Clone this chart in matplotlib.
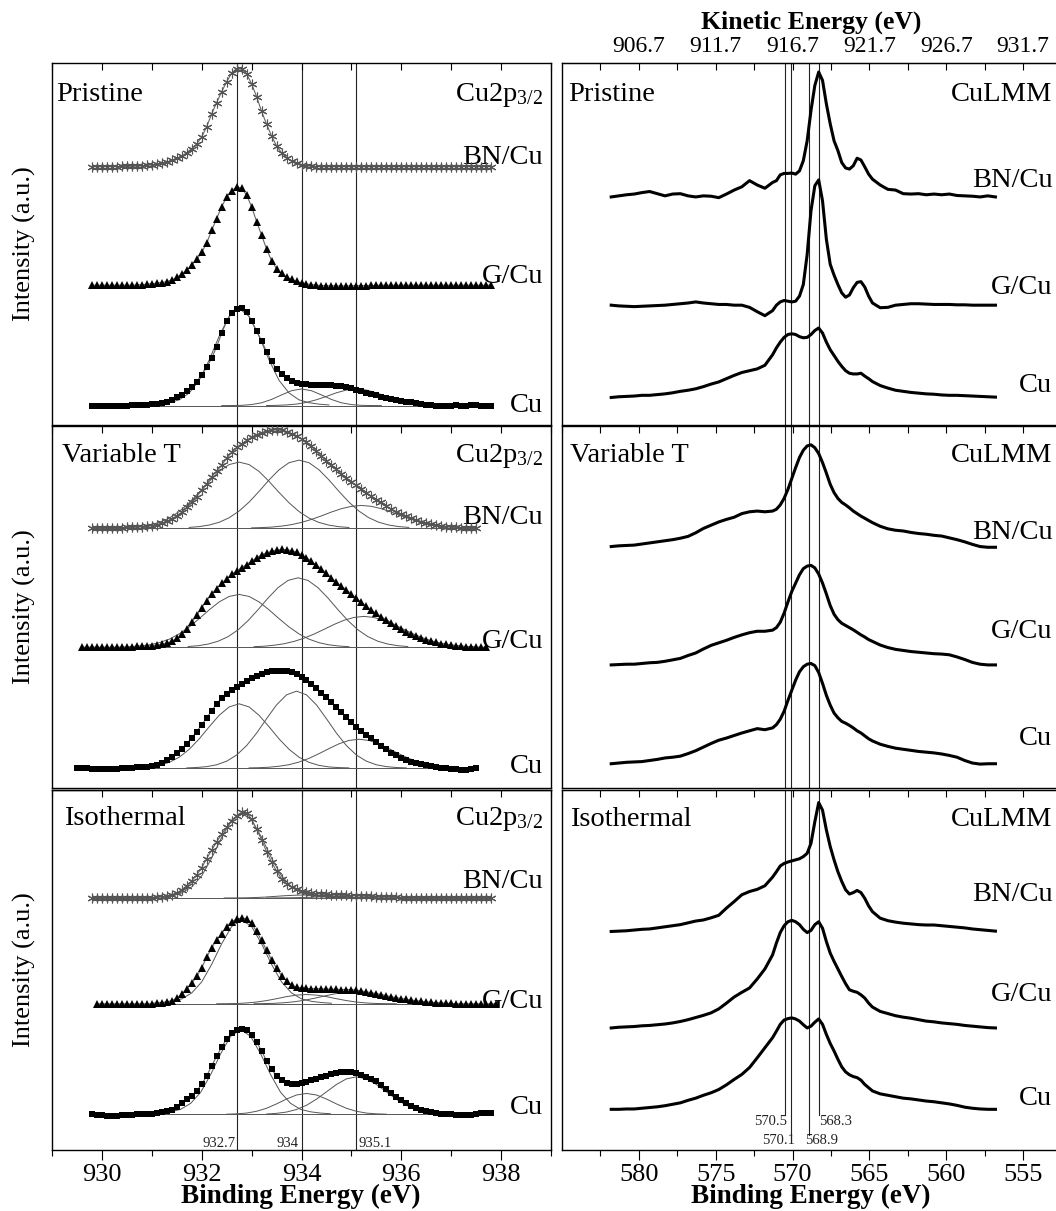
import numpy as np
import matplotlib
matplotlib.use("Agg")
import matplotlib.pyplot as plt
from matplotlib.ticker import MultipleLocator, FixedLocator, NullFormatter, FormatStrFormatter

plt.rcParams['font.family'] = ['Liberation Serif', 'DejaVu Serif']
plt.rcParams['mathtext.fontset'] = 'custom'
plt.rcParams['mathtext.rm'] = 'Liberation Serif'
plt.rcParams['mathtext.it'] = 'Liberation Serif:italic'

# ---------------------------------------------------------------- data
samples = ["BN/Cu", "G/Cu", "Cu"]
rows_names = ["Pristine", "Variable T", "Isothermal"]

# Cu 2p3/2 spectra: normalised intensity, 0.1 eV steps from the start energy
pri_bn_e0 = 929.8
pri_bn = [0, 0, 0, 0, 0, 0, 0.1, 0.2, 0.3, 0.5, 0.8, 1.2, 1.8, 2.5, 3.4, 4.6, 6.2, 8.2, 10.8, 14.0,
          18.2, 23.0, 30.0, 40.5, 53.5, 65, 76, 86, 95, 99.5, 99, 94, 84, 71, 56, 43, 31, 21, 14, 9,
          5.5, 3.2, 1.6, 0.8, 0.3, 0, 0, 0, 0, 0, 0, 0, 0, 0, 0, 0, 0, 0, 0, 0,
          0, 0, 0, 0, 0, 0, 0, 0, 0, 0, 0, 0, 0, 0, 0, 0, 0, 0, 0, 0, 0]
pri_g_e0 = 929.8
pri_g = [0, 0, 0, 0, 0, 0, 0, 0, 0, 0.3, 0.6, 1.0, 1.5, 2.1, 2.8, 3.6, 5.5, 8.0, 11.5, 15.5,
         20.5, 26.5, 33.5, 43, 56, 68, 80, 90, 96.5, 100, 99, 92, 80, 65, 51, 37, 25, 17, 12, 8.5,
         6, 4, 2.5, 1.5, 0.7, 0, -0.3, -0.5, -0.6, -0.7, -0.7, -0.7, -0.6, -0.5, -0.4, -0.3, -0.2, -0.1,
         0, 0, 0, 0, 0, 0, 0, 0, 0, 0, 0, 0, 0, 0, 0, 0, 0, 0, 0, 0, 0, 0, 0]
pri_cu_e0 = 929.8
pri_cu = [0, -0.3, -0.5, -0.5, -0.4, -0.2, -0.3, 0, 0.2, 0.4, 0.7, 1.0, 1.3, 1.7, 2.6, 4, 6, 8.3, 11, 14.5,
          18.5, 24.5, 31.5, 39, 48.5, 60, 74, 86, 94.5, 99, 99.5, 95, 86, 76, 66, 55, 45, 37, 32, 28.5,
          25.5, 23.5, 22.5, 22, 21.5, 21.2, 21.2, 21.2, 21, 20.5, 19.7, 18.8, 17.5, 16, 14.5, 13, 11.8, 10.5, 9.2, 8,
          7, 6, 5, 4.1, 3.2, 2.4, 1.6, 0.9, 0.2, -0.5, -0.6, -0.3, 0, 0.2, 0.1, 0, 0.2, 0.3, 0.1, 0, 0]
vt_bn_e0 = 929.8
vt_bn = [0, 0, 0, 0, 0.1, 0.2, 0.4, 0.6, 0.8, 1.1, 1.4, 1.8, 2.4, 3.4, 5.0, 6.8, 9.5, 12.5, 16, 21,
         26.5, 32, 38.5, 45, 52, 58, 64, 71, 77, 82, 85.5, 89, 92.5, 95, 97, 98.5, 99.5, 100, 99.2, 97.8,
         96, 93.5, 90.5, 87, 83, 78.5, 73.5, 68.5, 64, 59.5, 55, 51, 47, 43.5, 40, 36, 32.5, 29, 26, 22.5,
         19.5, 16.8, 14.2, 12, 10, 8.2, 6.6, 5.2, 4, 3, 2.2, 1.6, 1.1, 0.7, 0.4, 0.2, 0.1, 0]
vt_g_e0 = 929.6
vt_g = [0, 0, 0, 0, 0, 0, 0, 0, 0.2, 0.3, 0.5, 0.7, 1.0, 1.3, 1.7, 2.1, 2.8, 4.0, 6.0, 9.0,
        13.5, 19, 25.5, 32.5, 40.5, 47.5, 54.5, 60, 65.5, 70, 74.5, 78, 81.5, 84.5, 88, 91.5, 94.5, 96.5, 98, 99.2,
        100, 99.8, 98.8, 97, 94.5, 91.5, 88, 84, 80, 75.5, 71, 66.5, 62.5, 58.5, 54.5, 50, 46, 42, 38, 34.5,
        31, 28, 25, 22, 19, 16, 13.5, 11.2, 9.2, 7.5, 6, 4.8, 3.7, 2.8, 2, 1.4, 0.9, 0.5, 0.2, 0, 0, 0]
vt_cu_e0 = 929.5
vt_cu = [0.5, 0, -0.3, -0.5, -0.7, -0.7, -0.7, -0.6, -0.5, -0.3, 0, 0.3, 0.7, 1.1, 1.6, 2.2, 3.5, 5.2, 7.8, 11.5,
         15.5, 20, 25, 31, 37.5, 44.5, 51.5, 59, 66, 72, 76.5, 80, 83, 86.5, 89.5, 92.5, 95, 97, 98.5, 99.5,
         100, 100, 99.5, 98.5, 96.5, 93.5, 90, 86, 82, 77.5, 72.5, 67.5, 62.5, 57.5, 52.5, 47, 42, 38, 34, 30.5,
         27, 23, 19.5, 16, 13.2, 10.6, 8.3, 6.4, 4.9, 3.7, 2.7, 1.9, 1.2, 0.6, 0.1, -0.5, -1.2, -2, -2.4, -1.2, 0]
iso_bn_e0 = 929.8
iso_bn = [0, 0, 0, 0, 0, 0, 0, 0, 0, 0, 0, 0, 0,
          0.8, 1.5, 2.5, 4, 6, 9.5, 14.5, 20, 27, 35.5, 46, 56, 65.5, 74.5, 82.5, 90, 96, 100, 99.5, 92,
          80, 68, 54, 42, 31.5, 22.5, 16.5, 12.5, 10, 8, 6.6, 5.8, 5.1, 4.6, 4.2, 3.9, 3.6, 3.4, 3.1, 2.9,
          2.7, 2.4, 2.1, 1.8, 1.5, 1.2, 1, 0.8, 0.6, 0.4, 0.3, 0.2, 0.1,
          0, 0, 0, 0, 0, 0, 0, 0, 0, 0, 0, 0, 0, 0, 0]
iso_g_e0 = 929.9
iso_g = [0, 0, 0, 0, 0, 0, 0, 0, 0, 0, 0, 0,
         0.5, 1.2, 2.3, 3.8, 6.5, 11.5, 17.5, 24, 32, 42, 54.5, 65.5, 74.5, 82, 90, 96, 99, 100, 99.5, 94,
         84.5, 74, 62.5, 51.5, 41.5, 33, 26.5, 22, 19.5, 18.5, 18, 17.8, 17.6, 17.4, 17.2, 17, 16.8, 16.7, 16.7, 16.5,
         15.8, 15, 14, 13, 12, 10.8, 9.5, 8.2, 7.2, 6.2, 5.2, 4.4, 3.6, 3, 2.4, 1.9, 1.4, 1, 0.7, 0.4, 0.2, 0,
         0, 0, 0, 0, 0, 0, 0]
iso_cu_e0 = 929.8
iso_cu = [0, -0.5, -1, -1.5, -2, -1.5, -1, -0.5, -0.2, 0, 0.3, 0.6, 1, 1.5, 2.5, 3.8, 5.5, 9, 13, 17.5,
          22, 27.5, 35, 45, 56.5, 68, 78.5, 88, 94.5, 98.5, 100, 98.5, 93, 84.5, 74, 62.5, 52.5, 45, 40, 37,
          36, 36, 36.5, 38, 39.8, 41.5, 43.5, 45.2, 46.8, 48, 49.2, 49.6, 49, 47.8, 46.2, 44, 41.5, 38.5, 34, 29.5,
          25, 20.5, 16.5, 13, 10, 7.8, 5.5, 3.8, 2.5, 1.5, 0.8, 0.4, 0, -0.4, -0.8, -0.8, -0.2, 0.8, 1.2, 1.2, 1.2]

# fitted components: (start energy, values at 0.2 eV steps), same normalisation
pri_cu_comps = [
    (930.95, [0.7, 1.5, 3.0, 5.9, 12.9, 25.8, 46.5, 70.8, 91.1, 99, 91.1, 70.8, 46.5, 25.8, 12.9, 5.9, 3.0, 1.5, 0.7]),
    (932.4, [0, 0.1, 0.3, 1.1, 2.9, 6.3, 10.9, 15.2, 17, 15.2, 10.9, 6.3, 2.9, 1.1, 0.3, 0.1, 0]),
    (933.3, [0.1, 0.3, 0.7, 1.6, 3.3, 6.0, 9.4, 13.1, 15.9, 17, 15.9, 13.1, 9.4, 6.0, 3.3, 1.6, 0.7, 0.3, 0.1]),
]
vt_bn_comps = [
    (930.55, [0.6, 1.4, 3.0, 5.7, 10.2, 16.8, 25.7, 36.2, 47.4, 57.5, 64.5, 67, 64.5, 57.5, 47.4, 36.2, 25.7, 16.8, 10.2, 5.7, 3.0, 1.4, 0.6]),
    (931.75, [0.7, 1.5, 3.1, 5.9, 10.5, 17.3, 26.4, 37.3, 48.9, 59.2, 66.4, 69, 66.4, 59.2, 48.9, 37.3, 26.4, 17.3, 10.5, 5.9, 3.1, 1.5, 0.7]),
    (933.0, [0.2, 0.5, 1.0, 2.0, 3.5, 5.8, 8.8, 12.4, 16.3, 19.7, 22.1, 23, 22.1, 19.7, 16.3, 12.4, 8.8, 5.8, 3.5, 2.0, 1.0, 0.5, 0.2]),
]
vt_g_comps = [
    (930.55, [0.5, 1.2, 2.4, 4.6, 8.2, 13.6, 20.7, 29.2, 38.2, 46.3, 51.9, 54, 51.9, 46.3, 38.2, 29.2, 20.7, 13.6, 8.2, 4.6, 2.4, 1.2, 0.5]),
    (931.73, [0.7, 1.5, 3.2, 6.1, 10.8, 17.8, 27.2, 38.4, 50.3, 60.9, 68.3, 71, 68.3, 60.9, 50.3, 38.4, 27.2, 17.8, 10.8, 6.1, 3.2, 1.5, 0.7]),
    (933.05, [0.5, 1.0, 2.0, 3.5, 5.9, 9.2, 13.4, 18.2, 23.2, 27.5, 30.4, 31.5, 30.4, 27.5, 23.2, 18.2, 13.4, 9.2, 5.9, 3.5, 2.0, 1.0, 0.5]),
]
vt_cu_comps = [
    (930.55, [0.2, 0.5, 1.2, 2.8, 5.9, 11.2, 19.3, 30.0, 42.4, 54.2, 62.8, 66, 62.8, 54.2, 42.4, 30.0, 19.3, 11.2, 5.9, 2.8, 1.2, 0.5, 0.2]),
    (931.7, [0.2, 0.6, 1.5, 3.4, 7.1, 13.4, 23.1, 35.9, 50.7, 64.9, 75.2, 79, 75.2, 64.9, 50.7, 35.9, 23.1, 13.4, 7.1, 3.4, 1.5, 0.6, 0.2]),
    (932.95, [0.2, 0.4, 0.9, 1.9, 3.5, 6.2, 10.0, 14.8, 20.0, 24.9, 28.4, 29.6, 28.4, 24.9, 20.0, 14.8, 10.0, 6.2, 3.5, 1.9, 0.9, 0.4, 0.2]),
]
iso_bn_comps = [
    (931.0, [0.7, 1.5, 3.0, 5.9, 12.9, 25.8, 46.5, 70.8, 91.1, 99, 91.1, 70.8, 46.5, 25.8, 12.9, 5.9, 3.0, 1.5, 0.7]),
    (932.45, [0.0, 0.1, 0.2, 0.5, 1.0, 1.8, 2.6, 3.2, 3.5, 3.2, 2.6, 1.8, 1.0, 0.5, 0.2, 0.1, 0.0]),
    (933.3, [0.0, 0.1, 0.2, 0.4, 0.7, 1.1, 1.7, 2.2, 2.6, 2.8, 2.6, 2.2, 1.7, 1.1, 0.7, 0.4, 0.2, 0.1, 0.0]),
]
iso_g_comps = [
    (931.0, [0.7, 1.5, 2.9, 5.8, 12.7, 25.6, 46.1, 70.1, 90.2, 98, 90.2, 70.1, 46.1, 25.6, 12.7, 5.8, 2.9, 1.5, 0.7]),
    (932.3, [0.1, 0.2, 0.4, 1.0, 2.1, 3.8, 6.0, 8.4, 10.2, 10.9, 10.2, 8.4, 6.0, 3.8, 2.1, 1.0, 0.4, 0.2, 0.1]),
    (933.05, [0.1, 0.3, 0.6, 1.3, 2.4, 4.1, 6.4, 9.0, 11.5, 13.3, 14, 13.3, 11.5, 9.0, 6.4, 4.1, 2.4, 1.3, 0.6, 0.3, 0.1]),
]
iso_cu_comps = [
    (930.98, [0.7, 1.5, 3.0, 5.9, 12.9, 25.8, 46.5, 70.8, 91.1, 99, 91.1, 70.8, 46.5, 25.8, 12.9, 5.9, 3.0, 1.5, 0.7]),
    (932.5, [0.2, 0.6, 1.5, 3.6, 7.1, 12.2, 17.9, 22.6, 24.4, 22.6, 17.9, 12.2, 7.1, 3.6, 1.5, 0.6, 0.2]),
    (933.3, [0.4, 1.2, 2.7, 5.7, 10.6, 17.7, 26.3, 34.9, 41.4, 43.8, 41.4, 34.9, 26.3, 17.7, 10.6, 5.7, 2.7, 1.2, 0.4]),
]

# stacking offsets and peak heights of the Cu 2p panels (percent of panel height)
cu2p_offsets = [[71.4, 38.6, 5.35], [71.8, 38.9, 5.5], [70.0, 40.6, 9.9]]
cu2p_heights = [[27.2, 27.1, 27.1], [27.2, 27.0, 26.9], [23.8, 23.8, 23.8]]
cu2p_ref = [932.7, 934.0, 935.1]
cu2p_ref_labels = ["932.7", "934", "935.1"]
cu2p_ticks = [930, 932, 934, 936, 938]

# Cu LMM spectra: binding energy grid and intensities (percent of panel height above offset)
lmm_be = [581.8, 581.3, 580.8, 580.3, 579.8, 579.3, 578.8, 578.3, 577.8, 577.3, 576.8,
          576.3, 575.8, 575.3, 574.8, 574.3, 573.8, 573.3, 572.8, 572.3, 571.8, 571.3,
          571.05, 570.8, 570.55, 570.3, 570.05, 569.8, 569.55, 569.3, 569.05, 568.8, 568.55,
          568.3, 568.05, 567.8, 567.55, 567.3, 567.05, 566.8, 566.55, 566.3, 566.05, 565.8,
          565.55, 565.3, 565.05, 564.8,
          564.3, 563.8, 563.3, 562.8, 562.3, 561.8, 561.3, 560.8, 560.3, 559.8, 559.3, 558.8,
          558.3, 557.8, 557.3, 556.8]
pri_bn_lmm = [-0.3, 0, 0.3, 0.5, 0.9, 1.2, 0.6, 0, 0.5, 0.6, 0, -0.3, 0, -0.1, -0.5, 0.5, 1.6, 2.5, 4.2, 3.0, 2.1, 3.7,
              4.2, 5.8, 6.2, 6.2, 6.3, 6.0, 6.9, 9.7, 15.2, 23.6, 30.5, 34.2, 31.9, 25.4, 19.9, 15.2, 12.5, 9.2, 7.7, 7.4,
              8.3, 10.4, 9.9, 8.0, 6.0, 4.6,
              3.0, 1.8, 1.6, 0.6, 0.5, 0.6, 0.3, 0.5, 0.3, 0.5, 0.1, 0, -0.1, -0.3, 0, -0.3]
pri_g_lmm = [0, -0.2, -0.3, -0.4, -0.3, -0.2, -0.1, 0, 0.2, 0.4, 0.6, 0.9, 0.6, 0.4, 0.2, 0.2, 0, 0, -0.6, -1.8, -2.9, -1.5,
             0, 0.9, 1.3, 1.1, 0.9, 1.1, 2.5, 5.7, 14.0, 26.1, 33.0, 34.6, 28.8, 18.2, 11.3, 8.3, 5.7, 3.4, 2.2, 2.8,
             4.8, 6.3, 6.5, 5.0, 2.5, 0.6,
             -0.7, -0.6, 0, 0.2, 0.4, 0.4, 0.3, 0.2, 0.2, 0.2, 0.1, 0.1, 0, 0, 0, 0]
pri_cu_lmm = [0, 0.2, 0.3, 0.4, 0.6, 0.6, 0.8, 1.0, 1.3, 1.7, 2.0, 2.4, 3.0, 3.7, 4.3, 5.2, 6.1, 6.9, 7.4, 7.9, 8.9, 11.8,
              13.7, 15.3, 16.6, 17.4, 17.6, 17.4, 16.8, 16.5, 16.6, 17.4, 18.5, 19.2, 17.8, 15.3, 13.2, 11.6, 10.0, 8.6,
              7.4, 6.7, 6.5, 6.5, 6.7, 5.9, 5.2, 4.4,
              3.3, 2.6, 2.0, 1.7, 1.4, 1.2, 1.0, 0.9, 0.7, 0.6, 0.6, 0.5, 0.4, 0.3, 0.2, 0.1]
vt_bn_lmm = [-0.1, 0.1, 0.2, 0.3, 0.6, 0.9, 1.2, 1.5, 1.8, 2.2, 2.7, 3.7, 4.9, 5.8, 6.7, 7.4, 8.0, 9.0, 9.5, 9.7, 9.5, 9.7,
             10.2, 11.4, 13.2, 15.7, 18.7, 21.7, 24.5, 26.5, 27.7, 28.0, 27.2, 25.6, 23.1, 20.2, 17.1, 14.8, 13.2, 12.1,
             11.4, 10.6, 9.7, 9.0, 8.3, 7.7, 7.1, 6.5,
             5.5, 4.8, 4.4, 4.2, 3.8, 3.5, 3.3, 3.0, 2.8, 2.3, 1.8, 1.2, 0.5, -0.1, -0.3, -0.3]
vt_g_lmm = [0, 0.1, 0.2, 0.2, 0.4, 0.6, 0.7, 1.0, 1.4, 1.8, 2.6, 3.3, 4.4, 5.4, 6.1, 6.8, 7.6, 8.3, 8.9, 9.3, 9.3, 9.6,
            10.3, 11.8, 14.3, 17.4, 20.3, 22.6, 24.9, 26.6, 27.3, 27.5, 26.8, 25.1, 22.6, 19.6, 16.4, 14.0, 12.5, 11.5,
            10.9, 10.3, 9.7, 9.0, 8.3, 7.7, 7.0, 6.5,
            5.5, 4.8, 4.3, 4.0, 3.7, 3.5, 3.3, 3.1, 3.0, 2.8, 2.2, 1.5, 0.7, 0.2, 0, 0]
vt_cu_lmm = [0, 0.2, 0.4, 0.5, 0.6, 0.9, 1.2, 1.6, 1.8, 2.1, 2.8, 3.6, 4.6, 5.6, 6.5, 7.1, 7.8, 8.5, 9.1, 9.7, 9.4, 9.9,
             10.8, 12.3, 14.5, 17.5, 20.3, 23.1, 25.4, 26.8, 27.5, 27.7, 27.1, 25.2, 22.2, 18.9, 16.2, 14.0, 12.7, 11.7,
             11.2, 10.6, 9.9, 9.1, 8.5, 7.7, 6.9, 6.3,
             5.4, 4.8, 4.3, 4.0, 3.7, 3.4, 3.2, 3.0, 2.7, 2.3, 1.8, 0.9, 0.2, -0.1, 0, 0]
iso_bn_lmm = [0, 0.1, 0.2, 0.4, 0.6, 0.7, 1.0, 1.3, 1.6, 1.9, 2.4, 2.9, 3.2, 3.8, 4.5, 6.5, 8.3, 10.2, 11.1, 11.7, 12.7, 15.1,
              16.6, 18.2, 18.9, 19.3, 19.6, 19.9, 20.2, 20.8, 21.7, 24.5, 30.5, 35.8, 33.7, 28.2, 23.6, 19.9, 16.6, 13.9,
              11.6, 10.4, 10.8, 11.4, 10.8, 9.2, 7.1, 5.5,
              3.7, 3.0, 2.6, 2.3, 2.1, 1.9, 1.8, 1.8, 1.6, 1.4, 1.2, 1.0, 0.7, 0.5, 0.3, 0.1]
iso_g_lmm = [0, 0.2, 0.3, 0.4, 0.6, 0.7, 0.9, 1.1, 1.4, 1.8, 2.3, 2.9, 3.5, 4.2, 5.3, 6.9, 8.6, 9.9, 11.1, 13.6, 16.4, 20.3,
             23.6, 26.5, 28.4, 29.5, 29.9, 29.5, 28.7, 27.4, 26.5, 27.1, 28.7, 29.5, 27.7, 24.0, 20.8, 18.5, 16.4, 14.3,
             12.3, 10.6, 10.2, 9.9, 9.2, 8.3, 6.9, 5.8,
             4.6, 4.0, 3.4, 3.0, 2.7, 2.3, 1.9, 1.7, 1.4, 1.2, 1.0, 0.7, 0.5, 0.3, 0.1, 0]
iso_cu_lmm = [0, 0, 0.1, 0.1, 0.3, 0.5, 0.7, 1.0, 1.4, 1.8, 2.5, 3.1, 3.9, 4.6, 5.5, 6.8, 8.3, 9.7, 11.6, 14.3, 17.1, 19.9,
              21.7, 23.6, 24.8, 25.2, 25.4, 25.1, 24.5, 23.5, 22.6, 23.1, 24.2, 25.1, 23.6, 20.8, 18.3, 16.2, 13.9, 11.8,
              10.4, 9.6, 9.1, 8.8, 8.1, 6.9, 6.0, 5.1,
              4.3, 3.9, 3.5, 3.1, 2.9, 2.6, 2.3, 2.1, 1.8, 1.5, 1.1, 0.6, 0.3, 0.1, 0, 0]
lmm_offsets = [[63.3, 33.1, 7.6], [66.8, 34.0, 6.7], [60.7, 33.9, 11.3]]
lmm_ref = [570.5, 570.1, 568.9, 568.3]
lmm_ref_labels = ["570.5", "570.1", "568.9", "568.3"]
lmm_ticks = [580, 575, 570, 565, 560, 555]
photon_energy = 1486.7
ke_ticks = [906.7, 911.7, 916.7, 921.7, 926.7, 931.7]

cu2p_data = [
    [(pri_bn_e0, pri_bn, None), (pri_g_e0, pri_g, None), (pri_cu_e0, pri_cu, pri_cu_comps)],
    [(vt_bn_e0, vt_bn, vt_bn_comps), (vt_g_e0, vt_g, vt_g_comps), (vt_cu_e0, vt_cu, vt_cu_comps)],
    [(iso_bn_e0, iso_bn, iso_bn_comps), (iso_g_e0, iso_g, iso_g_comps), (iso_cu_e0, iso_cu, iso_cu_comps)],
]
lmm_data = [[pri_bn_lmm, pri_g_lmm, pri_cu_lmm],
            [vt_bn_lmm, vt_g_lmm, vt_cu_lmm],
            [iso_bn_lmm, iso_g_lmm, iso_cu_lmm]]

# ---------------------------------------------------------------- layout / style
W, H = 1056, 1211
fig = plt.figure(figsize=(W / 100, H / 100), dpi=100)


def rect(x0, y0, x1, y1):
    return [x0 / W, 1 - y1 / H, (x1 - x0) / W, (y1 - y0) / H]


row_px = [(63, 425), (426, 788), (790, 1150)]
left_px = (52, 551)
right_px = (562, 1060)

marker_styles = [dict(marker=(6, 2, 0), ms=7, mew=0.8, color='#555555', mec='#555555'),
                 dict(marker='^', ms=6, mew=0, color='black'),
                 dict(marker='s', ms=5, mew=0, color='black')]
LBL = 20.5
cu2p_label_y = [[72.0, 39.2, 3.7], [72.9, 38.8, 4.1], [72.7, 39.4, 9.9]]
cu2p_head_y = [89.6, 90.0, 90.3]
cu2p_head_x = [0.008, 0.02, 0.024]
lmm_label_y = [[65.8, 36.2, 9.0], [68.8, 41.5, 12.0], [69.2, 41.5, 12.4]]
lmm_head_y = [89.4, 90.0, 90.0]
lmm_head_x = [0.012, 0.016, 0.016]

for r in range(3):
    y0, y1 = row_px[r]
    # ----- Cu 2p panel
    ax = fig.add_axes(rect(left_px[0], y0, left_px[1], y1))
    ax.set_xlim(929, 939)
    ax.set_ylim(0, 100)
    ax.set_yticks([])
    for s in ax.spines.values():
        s.set_linewidth(1.0)
    for e in cu2p_ref:
        ax.axvline(e, color='#222222', lw=0.8, zorder=1)
    for i in range(3):
        e0, vals, comps = cu2p_data[r][i]
        off, hgt = cu2p_offsets[r][i], cu2p_heights[r][i]
        x = e0 + 0.1 * np.arange(len(vals))
        y = off + hgt / 100.0 * np.asarray(vals)
        if comps is not None:
            ax.plot([x[0], x[-1]], [off, off], color='#555555', lw=0.7, zorder=2)
            for cs, cv in comps:
                cx = cs + 0.2 * np.arange(len(cv))
                ax.plot(cx, off + hgt / 100.0 * np.asarray(cv), color='#555555', lw=0.7, zorder=2)
        ax.plot(x, y, color='#666666', lw=0.8, zorder=3)
        ax.plot(x, y, ls='none', zorder=4, **marker_styles[i])
        ax.text(0.984, cu2p_label_y[r][i], samples[i], transform=ax.get_yaxis_transform(),
                ha='right', va='baseline', size=LBL)
    ax.text(cu2p_head_x[r], cu2p_head_y[r], rows_names[r], transform=ax.get_yaxis_transform(),
            ha='left', va='baseline', size=LBL)
    ax.text(0.984, cu2p_head_y[r], r'Cu2p$_{\mathrm{3/2}}$', transform=ax.get_yaxis_transform(),
            ha='right', va='baseline', size=LBL)
    fig.text(24 / W, 1 - (y0 + y1) / 2 / H, 'Intensity (a.u.)', rotation=90,
             ha='center', va='center', size=19)
    if r < 2:
        ax.xaxis.set_major_locator(MultipleLocator(1))
        ax.tick_params(axis='x', which='both', direction='in', length=5, width=0.8,
                       top=True, bottom=False, labeltop=False, labelbottom=False)
    else:
        ax.xaxis.set_major_locator(FixedLocator(cu2p_ticks))
        ax.xaxis.set_minor_locator(MultipleLocator(1))
        ax.tick_params(axis='x', which='major', direction='out', length=7, width=0.8,
                       labelsize=19, pad=3, top=False)
        ax.tick_params(axis='x', which='minor', direction='out', length=4, width=0.8, top=False)
        sec = ax.secondary_xaxis('top')
        sec.xaxis.set_major_locator(MultipleLocator(1))
        sec.xaxis.set_major_formatter(NullFormatter())
        sec.tick_params(axis='x', which='both', direction='in', length=5, width=0.8)
        sec.spines['top'].set_linewidth(1.0)
        xs = [cu2p_ref[0] - 0.02, cu2p_ref[1] - 0.07, cu2p_ref[2] + 0.04]
        has = ['right', 'right', 'left']
        for k in range(3):
            ax.text(xs[k], 1.9, cu2p_ref_labels[k], ha=has[k], va='center', size=10.5, color='#222222')

    # ----- Cu LMM panel
    ax = fig.add_axes(rect(right_px[0], y0, right_px[1], y1))
    ax.set_xlim(585.0, 552.6)
    ax.set_ylim(0, 100)
    ax.set_yticks([])
    for s in ax.spines.values():
        s.set_linewidth(1.0)
    for k, e in enumerate(lmm_ref):
        if r < 2:
            ax.axvline(e, color='#222222', lw=0.8, zorder=1)
        else:
            ax.axvline(e, ymin=(0.096 if k in (0, 3) else 0.041), ymax=1, color='#222222', lw=0.8, zorder=1)
    be = np.asarray(lmm_be)
    for i in range(3):
        ax.plot(be, lmm_offsets[r][i] + np.asarray(lmm_data[r][i]), color='black', lw=2.2,
                solid_joinstyle='round', zorder=3)
        ax.text(553.1, lmm_label_y[r][i], samples[i], ha='right', va='baseline', size=LBL)
    ax.text(lmm_head_x[r], lmm_head_y[r], rows_names[r], transform=ax.get_yaxis_transform(),
            ha='left', va='baseline', size=LBL)
    ax.text(553.1, lmm_head_y[r], 'CuLMM', ha='right', va='baseline', size=LBL)
    if r == 0:
        ax.tick_params(axis='x', which='both', top=False, bottom=False,
                       labeltop=False, labelbottom=False)
        sec = ax.secondary_xaxis('top', functions=(lambda b: photon_energy - b,
                                                   lambda k: photon_energy - k))
        sec.xaxis.set_major_locator(FixedLocator(ke_ticks))
        sec.xaxis.set_minor_locator(FixedLocator([t + 2.5 for t in ke_ticks] + [ke_ticks[0] - 2.5]))
        sec.xaxis.set_major_formatter(FormatStrFormatter('%.1f'))
        sec.tick_params(axis='x', which='both', direction='in', length=5, width=0.8,
                        labelsize=17, pad=4)
    elif r == 1:
        ax.xaxis.set_major_locator(MultipleLocator(2.5))
        ax.tick_params(axis='x', which='both', direction='in', length=5, width=0.8,
                       top=True, bottom=False, labeltop=False, labelbottom=False)
    else:
        ax.xaxis.set_major_locator(FixedLocator(lmm_ticks))
        ax.xaxis.set_minor_locator(FixedLocator([t + 2.5 for t in lmm_ticks]))
        ax.tick_params(axis='x', which='major', direction='out', length=7, width=0.8,
                       labelsize=19, pad=3, top=False)
        ax.tick_params(axis='x', which='minor', direction='out', length=4, width=0.8, top=False)
        sec = ax.secondary_xaxis('top')
        sec.xaxis.set_major_locator(MultipleLocator(2.5))
        sec.xaxis.set_major_formatter(NullFormatter())
        sec.tick_params(axis='x', which='both', direction='in', length=5, width=0.8)
        lx = [570.35, 569.82, 569.18, 568.26]
        ly = [7.8, 2.6, 2.6, 7.8]
        lha = ['right', 'right', 'left', 'left']
        for k in range(4):
            ax.text(lx[k], ly[k], lmm_ref_labels[k], ha=lha[k], va='center', size=10.5, color='#222222')

fig.text(301 / W, 1 - 1203 / H, 'Binding Energy (eV)', ha='center', va='baseline',
         size=19.5, weight='bold')
fig.text(811 / W, 1 - 1203 / H, 'Binding Energy (eV)', ha='center', va='baseline',
         size=19.5, weight='bold')
fig.text(811 / W, 1 - 22 / H, 'Kinetic Energy (eV)', ha='center', va='center',
         size=18.5, weight='bold')

fig.savefig('out.png', dpi=100)
